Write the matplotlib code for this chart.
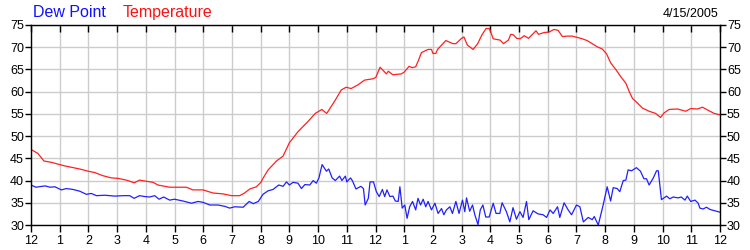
import numpy as np
import matplotlib
matplotlib.use("Agg")
import matplotlib.pyplot as plt

plt.rcParams['font.family'] = ['Liberation Sans', 'DejaVu Sans']

# temperature, hours after midnight -> deg F
temp_hours = [0.0, 0.24, 0.45, 0.71, 0.94, 1.17, 1.4, 1.7, 1.99, 2.22, 2.5, 2.8,
              3.03, 3.32, 3.6, 3.78, 3.96, 4.25, 4.42, 4.83, 5.41, 5.64, 5.99,
              6.34, 6.69, 6.98, 7.27, 7.44, 7.62, 7.85, 8.01, 8.08, 8.26, 8.55,
              8.78, 9.0, 9.3, 9.65, 9.9, 10.13, 10.3, 10.58, 10.81, 10.98,
              11.15, 11.38, 11.62, 11.91, 12.01, 12.16, 12.38, 12.45, 12.6,
              12.9, 13.0, 13.17, 13.28, 13.4, 13.5, 13.6, 13.83, 13.95, 14.0,
              14.1, 14.16, 14.45, 14.7, 14.8, 15.0, 15.08, 15.2, 15.4, 15.56,
              15.7, 15.85, 15.97, 16.1, 16.34, 16.46, 16.63, 16.71, 16.8,
              16.92, 17.04, 17.18, 17.33, 17.59, 17.68, 17.87, 18.04, 18.22,
              18.36, 18.51, 18.68, 18.85, 19.03, 19.2, 19.37, 19.55, 19.72,
              19.9, 20.05, 20.19, 20.37, 20.54, 20.72, 20.84, 20.95, 21.13,
              21.3, 21.53, 21.76, 21.93, 22.05, 22.23, 22.52, 22.81, 22.98,
              23.21, 23.39, 23.56, 23.8, 24.0]
temp_vals = [47.0, 46.1, 44.4, 44.1, 43.7, 43.3, 43.0, 42.6, 42.1, 41.8, 41.1,
             40.6, 40.5, 40.1, 39.5, 40.1, 39.9, 39.6, 39.0, 38.5, 38.5, 37.9,
             37.9, 37.2, 37.0, 36.6, 36.6, 37.2, 38.1, 38.6, 39.6, 40.5, 42.4,
             44.4, 45.5, 48.5, 51.0, 53.3, 55.1, 56.0, 55.1, 57.9, 60.4, 61.0,
             60.7, 61.5, 62.6, 62.9, 63.2, 65.5, 64.0, 64.6, 63.8, 64.0, 64.4,
             65.7, 65.4, 65.6, 67.1, 68.8, 69.5, 69.5, 68.6, 68.6, 69.5, 71.5,
             70.8, 70.8, 72.0, 72.3, 70.5, 69.5, 70.8, 72.7, 74.2, 74.2, 71.9,
             71.6, 70.8, 71.6, 72.9, 72.8, 72.0, 71.9, 72.6, 72.0, 73.7, 72.9,
             73.3, 73.4, 74.0, 73.8, 72.4, 72.5, 72.5, 72.2, 71.9, 71.5, 70.8,
             70.1, 69.6, 68.5, 66.5, 65.0, 63.4, 61.9, 60.0, 58.5, 57.4, 56.3,
             55.6, 55.1, 54.2, 55.2, 56.0, 56.1, 55.6, 56.2, 56.1, 56.5, 55.9,
             55.1, 54.8]

# dew point, hours after midnight -> deg F
dew_hours = [0.0, 0.17, 0.49, 0.66, 0.83, 1.06, 1.23, 1.46, 1.7, 1.93, 2.1, 2.28,
             2.57, 2.92, 3.2, 3.44, 3.59, 3.78, 3.96, 4.13, 4.31, 4.46, 4.62,
             4.83, 5.0, 5.29, 5.59, 5.82, 5.99, 6.23, 6.51, 6.75, 6.92, 7.1,
             7.39, 7.6, 7.74, 7.92, 8.01, 8.08, 8.26, 8.43, 8.63, 8.78, 8.9,
             9.0, 9.13, 9.3, 9.42, 9.54, 9.71, 9.83, 9.94, 10.03, 10.14, 10.29,
             10.37, 10.49, 10.6, 10.75, 10.83, 10.95, 11.0, 11.13, 11.2, 11.32,
             11.49, 11.58, 11.64, 11.75, 11.81, 11.93, 12.03, 12.13, 12.24,
             12.32, 12.4, 12.5, 12.61, 12.69, 12.79, 12.85, 12.93, 13.02, 13.1,
             13.19, 13.29, 13.4, 13.48, 13.57, 13.66, 13.75, 13.83, 13.95,
             14.07, 14.18, 14.3, 14.38, 14.47, 14.59, 14.68, 14.8, 14.91,
             15.03, 15.11, 15.17, 15.28, 15.38, 15.46, 15.57, 15.65, 15.74,
             15.84, 15.96, 16.1, 16.2, 16.33, 16.41, 16.56, 16.68, 16.79,
             16.91, 17.03, 17.14, 17.26, 17.34, 17.49, 17.66, 17.84, 17.96,
             18.08, 18.19, 18.34, 18.42, 18.57, 18.71, 18.83, 19.0, 19.12,
             19.24, 19.41, 19.55, 19.62, 19.76, 19.93, 20.07, 20.19, 20.28,
             20.42, 20.51, 20.63, 20.72, 20.8, 20.92, 21.09, 21.23, 21.35,
             21.44, 21.53, 21.67, 21.79, 21.85, 21.96, 22.14, 22.25, 22.37,
             22.54, 22.65, 22.78, 22.86, 22.98, 23.13, 23.24, 23.3, 23.41,
             23.53, 23.65, 23.82, 23.99]
dew_vals = [39.0, 38.5, 38.8, 38.5, 38.6, 37.9, 38.2, 38.0, 37.6, 36.9, 37.1,
            36.6, 36.7, 36.5, 36.6, 36.6, 36.0, 36.6, 36.4, 36.3, 36.6, 35.8,
            36.3, 35.6, 35.8, 35.4, 34.9, 35.3, 35.1, 34.5, 34.5, 34.2, 33.8,
            34.1, 34.0, 35.3, 34.8, 35.3, 36.2, 36.9, 37.7, 38.0, 39.0, 38.7,
            39.7, 39.0, 39.6, 39.4, 38.2, 39.1, 39.0, 40.0, 39.4, 40.6, 43.6,
            42.1, 42.6, 40.6, 40.0, 41.0, 40.0, 41.0, 39.7, 40.6, 39.9, 38.1,
            38.7, 38.2, 34.5, 36.0, 39.7, 39.7, 37.5, 36.4, 38.0, 36.4, 37.9,
            36.4, 36.5, 35.4, 35.3, 38.6, 33.8, 34.5, 31.5, 34.1, 35.3, 33.4,
            36.0, 34.5, 35.8, 34.1, 35.3, 33.4, 34.9, 32.6, 33.7, 32.3, 33.4,
            34.1, 32.6, 35.3, 32.6, 35.6, 33.0, 36.1, 33.1, 34.5, 32.3, 30.1,
            33.4, 34.5, 31.8, 31.8, 34.9, 32.6, 32.6, 35.0, 33.0, 30.7, 33.9,
            31.3, 33.0, 31.7, 35.3, 31.2, 33.2, 32.5, 32.3, 31.7, 33.4, 32.6,
            34.1, 31.7, 35.0, 33.4, 32.3, 34.5, 34.1, 30.7, 31.7, 31.2, 31.9,
            30.0, 34.5, 38.6, 35.4, 38.4, 38.2, 37.5, 40.0, 40.1, 42.4, 42.2,
            42.9, 42.1, 40.4, 40.4, 39.0, 40.5, 42.2, 42.2, 35.7, 36.5, 35.9,
            36.3, 36.1, 36.3, 35.6, 36.5, 35.3, 35.6, 34.9, 33.8, 33.6, 34.0,
            33.5, 33.2, 32.9]

hour_labels = ['12', '1', '2', '3', '4', '5', '6', '7', '8', '9', '10', '11',
               '12', '1', '2', '3', '4', '5', '6', '7', '8', '9', '10', '11', '12']
y_ticks = [30, 35, 40, 45, 50, 55, 60, 65, 70, 75]

fig = plt.figure(figsize=(7.5, 2.5), dpi=100)
ax = fig.add_axes([31/750, 25/250, 689/750, 200/250])

ax.plot(dew_hours, dew_vals, color='#2020ff', lw=0.9)
ax.plot(temp_hours, temp_vals, color='#ff2020', lw=0.9)

ax.set_xlim(0, 24)
ax.set_ylim(30, 75)
ax.set_xticks(np.arange(25))
ax.set_xticklabels(hour_labels)
ax.set_yticks(y_ticks)
ax.grid(True, color='#cccccc', lw=1.0)
ax.set_axisbelow(True)

ax.tick_params(axis='x', which='both', bottom=True, top=True, direction='out',
               length=5, width=1, labelsize=9, pad=2)
ax.tick_params(axis='y', left=True, right=True, labelleft=True,
               labelright=True, direction='out', length=4, width=1,
               labelsize=9, pad=1)
# top ticks point into the plot
for t in ax.xaxis.get_major_ticks():
    t.tick2line.set_marker(3)
    t.tick2line.set_markersize(5)
for sp in ax.spines.values():
    sp.set_linewidth(1.0)

fig.text(33/750, 1 - 17/250, 'Dew Point', color='#1010ff', fontsize=11.5,
         va='baseline')
fig.text(123/750, 1 - 17/250, 'Temperature', color='#ff1010', fontsize=11.5,
         va='baseline')
fig.text(718/750, 1 - 17/250, '4/15/2005', color='black', fontsize=9,
         ha='right', va='baseline')

fig.savefig('out.png', dpi=100)
